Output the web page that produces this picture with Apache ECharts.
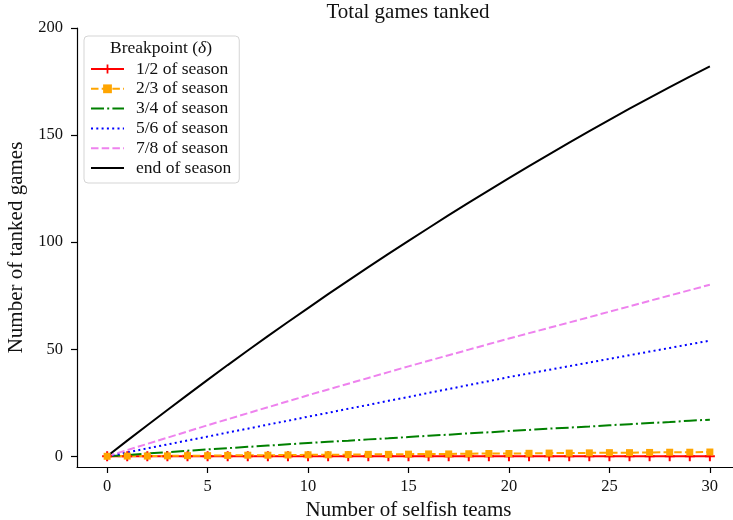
<!DOCTYPE html>
<html>
<head>
<meta charset="utf-8">
<script src="https://cdn.jsdelivr.net/npm/echarts@6/dist/echarts.min.js"></script>
<style>html,body{margin:0;padding:0;background:#fff}#c{width:733px;height:520px}</style>
</head>
<body>
<div id="c"></div>
<script>
const teams = [0,1,2,3,4,5,6,7,8,9,10,11,12,13,14,15,16,17,18,19,20,21,22,23,24,25,26,27,28,29,30];
const half = [0,0,0,0,0,0,0,0,0,0,0,0,0,0,0,0,0,0,0,0,0,0,0,0,0,0,0,0,0,0,0];
const twoThirds = [0,0.1,0.1,0.2,0.3,0.3,0.4,0.5,0.5,0.6,0.7,0.7,0.8,0.9,0.9,1.0,1.1,1.1,1.2,1.3,1.3,1.4,1.5,1.5,1.6,1.7,1.7,1.8,1.9,1.9,2.0];
const threeQuarters = [0,0.6,1.3,1.9,2.6,3.2,3.8,4.4,5.0,5.6,6.2,6.8,7.3,7.9,8.4,9.0,9.6,10.1,10.7,11.2,11.8,12.3,12.9,13.4,13.9,14.5,15.0,15.5,16.0,16.6,17.1];
const fiveSixths = [0,1.8,3.7,5.5,7.4,9.2,11.1,12.9,14.8,16.6,18.5,20.3,22.2,24.0,25.9,27.7,29.6,31.4,33.3,35.1,37.0,38.7,40.4,42.1,43.8,45.5,47.2,48.9,50.6,52.3,54.0];
const sevenEighths = [0,2.9,5.8,8.7,11.6,14.5,17.3,20.1,22.9,25.7,28.5,31.2,33.9,36.6,39.3,42.0,44.6,47.2,49.8,52.4,55.0,57.5,60.0,62.5,65.0,67.5,70.0,72.6,75.1,77.6,80.1];
const endSeason = [0,7.3,14.5,21.6,28.7,35.7,42.6,49.4,56.1,62.7,69.2,75.7,82.0,88.3,94.5,100.6,106.6,112.6,118.5,124.2,129.9,135.5,141.0,146.5,151.8,157.1,162.3,167.4,172.4,177.3,182.1];
const xTicks = [0,5,10,15,20,25,30];
const yTicks = [0,50,100,150,200];
const names = ['1/2 of season','2/3 of season','3/4 of season','5/6 of season','7/8 of season','end of season'];

const FONT = '"Liberation Serif", "DejaVu Serif", serif';
const pairs = d => teams.map((t,i)=>[t,d[i]]);
const plus = 'path://M-1.6,-8H1.6V-1.6H8V1.6H1.6V8H-1.6V1.6H-8V-1.6H-1.6Z';

const chart = echarts.init(document.getElementById('c'), null, {renderer:'canvas'});
chart.setOption({
  animation:false,
  backgroundColor:'#fff',
  title:[{
    text:'Total games tanked', left:408, textAlign:'center', top:2, padding:0,
    textStyle:{fontFamily:FONT, fontSize:21, fontWeight:'normal', color:'#111'}
  },{
    text:'{a|Breakpoint (}{b|δ}{a|)}', left:161, textAlign:'center', top:39, padding:0, z:10,
    textStyle:{rich:{a:{fontFamily:FONT,fontSize:17.5,fontWeight:'normal',color:'#111'},b:{fontFamily:FONT,fontSize:17.5,fontWeight:'normal',fontStyle:'italic',color:'#111'}}}
  }],
  grid:{left:77, width:663, top:28, height:439, containLabel:false, outerBoundsMode:'none'},
  legend:{
    data:[
      {name:names[0]},
      {name:names[1]},
      {name:names[2], itemStyle:{opacity:0}},
      {name:names[3], itemStyle:{opacity:0}},
      {name:names[4], itemStyle:{opacity:0}},
      {name:names[5], itemStyle:{opacity:0}}
    ],
    orient:'vertical', left:84, top:36,
    padding:[24,8,6,6], itemWidth:33, itemHeight:11, itemGap:1.8,
    backgroundColor:'rgba(255,255,255,0.8)', borderColor:'#d5d5d5', borderWidth:1, borderRadius:4,
    textStyle:{fontFamily:FONT, fontSize:17.5, color:'#111', padding:[0,0,0,7]}
  },
  xAxis:{
    type:'value', min:-1.5, max:31.5,
    name:'Number of selfish teams', nameLocation:'middle', nameGap:33,
    nameTextStyle:{fontFamily:FONT, fontSize:21, color:'#111'},
    axisLine:{show:true, onZero:false, lineStyle:{color:'#000', width:1.2}},
    axisTick:{show:true, length:6, customValues:xTicks, lineStyle:{color:'#000', width:1.2}},
    axisLabel:{customValues:xTicks, margin:11, fontFamily:FONT, fontSize:16.5, color:'#111'},
    splitLine:{show:false}
  },
  yAxis:{
    type:'value', min:-5, max:200,
    name:'Number of tanked games', nameLocation:'middle', nameGap:48,
    nameTextStyle:{fontFamily:FONT, fontSize:21, color:'#111'},
    axisLine:{show:true, onZero:false, lineStyle:{color:'#000', width:1.2}},
    axisTick:{show:true, length:6, customValues:yTicks, lineStyle:{color:'#000', width:1.2}},
    axisLabel:{customValues:yTicks, margin:14, fontFamily:FONT, fontSize:16.5, color:'#111'},
    splitLine:{show:false}
  },
  series:[
    {name:names[0], type:'line', data:pairs(half), symbol:plus, symbolSize:10, showAllSymbol:true,
      itemStyle:{color:'#ff0000'}, lineStyle:{color:'#ff0000', width:2}},
    {name:names[1], type:'line', data:pairs(twoThirds), symbol:'rect', symbolSize:7, showAllSymbol:true,
      itemStyle:{color:'#ffa500'}, lineStyle:{color:'#ffa500', width:2, type:[7.5,3.2]}},
    {name:names[2], type:'line', data:pairs(threeQuarters), symbol:'none',
      itemStyle:{color:'#008000'}, lineStyle:{color:'#008000', width:2, type:[13,3.2,2,3.2]}},
    {name:names[3], type:'line', data:pairs(fiveSixths), symbol:'none',
      itemStyle:{color:'#0000ff'}, lineStyle:{color:'#0000ff', width:2, type:[2,3.3]}},
    {name:names[4], type:'line', data:pairs(sevenEighths), symbol:'none',
      itemStyle:{color:'#ee82ee'}, lineStyle:{color:'#ee82ee', width:2, type:[7.5,3.2]}},
    {name:names[5], type:'line', data:pairs(endSeason), symbol:'none',
      itemStyle:{color:'#000000'}, lineStyle:{color:'#000000', width:2}}
  ]
});
</script>
</body>
</html>
